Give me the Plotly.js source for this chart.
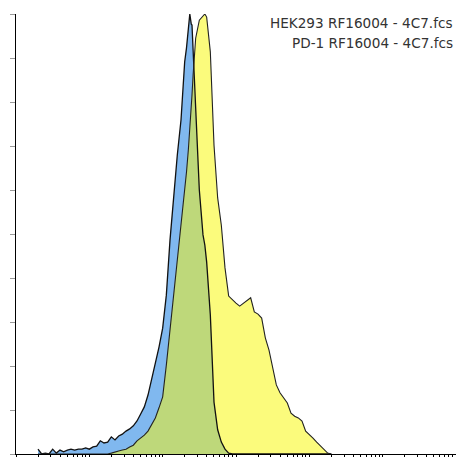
<!DOCTYPE html>
<html>
<head>
<meta charset="utf-8">
<script src="https://cdn.plot.ly/plotly-3.0.1.min.js"></script>
<style>html,body{margin:0;padding:0;background:#fff;}#chart{width:456px;height:457px;}</style>
</head>
<body>
<div id="chart"></div>
<script>
// log10 of fluorescence intensity (bin positions)
const logIntensity = [0.30,0.35,0.40,0.45,0.50,0.55,0.60,0.65,0.70,0.75,0.80,0.85,0.90,0.95,1.00,1.05,1.10,1.15,1.20,1.25,1.30,1.35,1.40,1.45,1.50,1.55,1.60,1.65,1.70,1.75,1.80,1.85,1.90,1.95,2.00,2.05,2.10,2.15,2.20,2.25,2.30,2.325,2.35,2.37,2.39,2.40,2.415,2.45,2.50,2.55,2.575,2.60,2.65,2.70,2.75,2.80,2.85,2.90,2.95,3.00,3.05,3.10,3.15,3.20,3.25,3.30,3.35,3.40,3.45,3.50,3.55,3.60,3.65,3.70,3.75,3.80,3.85,3.90,3.95,4.00,4.05,4.10,4.15,4.20,4.25,4.30];
// % of max counts
const hek293 = [1.1,0,0.2,0,1.1,0.2,0.9,0.5,0.9,1.1,0.9,1.1,1.1,1.4,1.1,1.6,1.8,3.0,2.5,2.7,3.9,3.2,4.1,4.5,5.2,5.7,6.4,7.5,9.1,10.7,13.4,16.8,20.2,24.3,28.6,36.1,48.6,58.9,68.0,75.9,89.1,92.3,96.4,100,97.7,97.5,91.8,78.2,60.0,49.8,47.5,43.6,31.6,11.8,5.5,2.7,1.1,0.2,0,0,0,0,0,0,0,0,0,0,0,0,0,0,0,0,0,0,0,0,0,0,0,0,0,0,0,0];
const pd1 = [0,0,0,0,0,0,0,0,0,0,0,0,0,0,0,0,0,0,0,0,0.2,0.5,0.7,0.9,1.1,1.6,2.0,3.0,3.6,4.3,5.2,6.6,8.2,10.5,13.0,20.2,28.2,35.0,43.6,51.4,58.9,64.1,69.1,73.6,79.3,81.6,86.1,94.5,98.6,99.5,100,99.3,91.4,70.2,58.2,52.0,42.3,35.9,35.0,34.3,33.6,34.3,35.0,35.5,32.3,31.8,30.9,26.4,23.6,19.5,15.7,13.9,12.7,11.6,9.3,8.6,8.2,7.5,5.2,4.5,3.6,2.7,1.8,0.9,0.2,0];
const legendLines = ["HEK293 RF16004 - 4C7.fcs", "PD-1 RF16004 - 4C7.fcs"];
const yTicks = [0,10,20,30,40,50,60,70,80,90,100];

const xs = logIntensity.map(l => Math.pow(10, l));
const overlap = hek293.map((v, i) => Math.min(v, pd1[i]));

const xTicks = [];
for (let d = 0; d < 6; d++) for (let k = 1; k < 10; k++) xTicks.push(k * Math.pow(10, d));
xTicks.push(1e6);

const traces = [
  {x: xs, y: hek293, type: 'scatter', mode: 'lines', fill: 'tozeroy', fillcolor: '#80b8ef', line: {width: 0}, hoverinfo: 'skip', showlegend: false},
  {x: xs, y: pd1, type: 'scatter', mode: 'lines', fill: 'tozeroy', fillcolor: '#fbfb7c', line: {width: 0}, hoverinfo: 'skip', showlegend: false},
  {x: xs, y: overlap, type: 'scatter', mode: 'lines', fill: 'tozeroy', fillcolor: '#bed87a', line: {width: 0}, hoverinfo: 'skip', showlegend: false},
  {x: xs, y: hek293, type: 'scatter', mode: 'lines', line: {color: '#111', width: 1.3}, name: legendLines[0], showlegend: false},
  {x: xs, y: pd1, type: 'scatter', mode: 'lines', line: {color: '#222', width: 1.1}, name: legendLines[1], showlegend: false}
];

const layout = {
  width: 456, height: 457,
  margin: {l: 16, r: 0, t: 14, b: 3, pad: 0},
  paper_bgcolor: '#fff', plot_bgcolor: '#fff',
  showlegend: false,
  xaxis: {type: 'log', range: [0, 6], showgrid: false, zeroline: false, showline: true, linecolor: '#000', linewidth: 1,
          tickmode: 'array', tickvals: xTicks, ticks: 'outside', ticklen: 3, tickcolor: '#000', tickwidth: 1, showticklabels: false, fixedrange: true},
  yaxis: {range: [0, 100], showgrid: false, zeroline: false, showline: true, linecolor: '#000', linewidth: 1.5,
          tickmode: 'array', tickvals: yTicks, ticks: 'outside', ticklen: 5, tickcolor: '#999', tickwidth: 1, showticklabels: false, fixedrange: true},
  annotations: legendLines.map((t, i) => ({
    text: t, xref: 'paper', yref: 'paper', x: 1, y: i === 0 ? 0.979 : 0.935, xanchor: 'right', yanchor: 'middle', xshift: -1,
    showarrow: false, font: {family: 'DejaVu Sans, Verdana, sans-serif', size: 13.6, color: '#333'}
  }))
};

Plotly.newPlot('chart', traces, layout, {staticPlot: true, displayModeBar: false});
</script>
</body>
</html>
